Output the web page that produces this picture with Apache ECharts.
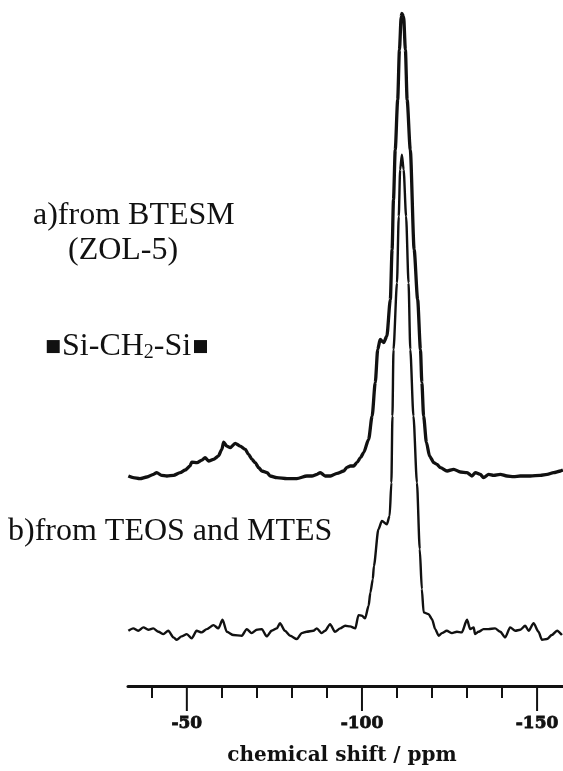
<!DOCTYPE html>
<html lang="en">
<head>
    <meta charset="UTF-8">
    <title>29Si NMR spectra</title>
    <style>
        html, body {
            margin: 0;
            padding: 0;
            background: #fff;
        }

        #chart {
            width: 563px;
            height: 771px;
        }
    </style>
    <script src="https://cdn.jsdelivr.net/npm/echarts@6/dist/echarts.min.js"></script>
</head>
<body>
<div id="chart"></div>
<script>
    // spectrum a) from BTESM (ZOL-5): [ppm, intensity above its own baseline]
    var specA = [
        [-33.3, 1.3], [-34.7, -0.3], [-36.6, -1.3], [-38.6, 0.3], [-40.5, 3], [-41.4, 4.7], [-42.8, 2],
        [-44.3, 1.3], [-46.2, 2], [-48.1, 4.7], [-49.5, 7.3], [-50.9, 11.3], [-51.4, 15.3], [-52.9, 14.7],
        [-54.3, 17.3], [-55.2, 19.7], [-56.2, 16.3], [-57.6, 18], [-59.0, 21.3], [-60.0, 28], [-60.5, 35.3],
        [-61.4, 31.3], [-62.4, 29.7], [-63.8, 34], [-65.2, 31.3], [-66.7, 28], [-67.6, 23], [-68.6, 18],
        [-69.5, 14.7], [-70.5, 9.7], [-71.4, 6.3], [-72.9, 4.7], [-73.8, 1.3], [-75.7, -0.3], [-78.6, -1.3],
        [-81.4, -1.3], [-84.3, 1.3], [-85.7, 1.3], [-87.2, 3], [-88.1, 4.7], [-89.5, 1.3], [-91.0, 1.3],
        [-92.9, 4], [-94.8, 6.3], [-95.7, 10], [-96.7, 11.3], [-97.6, 11.3], [-98.6, 15], [-99.6, 19.7],
        [-100.5, 25], [-101.9, 38], [-102.9, 61.3], [-103.8, 95], [-104.5, 128], [-105.2, 138], [-106.2, 135],
        [-107.1, 141.3], [-108.1, 178], [-108.6, 228], [-109.0, 278], [-109.5, 328], [-110.2, 378],
        [-110.7, 428], [-111.2, 461.3], [-111.4, 464.7], [-111.9, 461.3], [-112.4, 428], [-112.9, 378],
        [-113.8, 328], [-114.9, 228], [-115.9, 178], [-116.7, 128], [-117.1, 95], [-117.6, 61.3],
        [-118.4, 35], [-119.3, 21.3], [-120.5, 14.7], [-121.4, 13], [-122.4, 9.7], [-124.3, 6.3],
        [-126.2, 8], [-128.1, 5.3], [-130.0, 4.7], [-131.4, 1.3], [-132.4, 4.7], [-133.8, 3], [-134.7, -0.3],
        [-136.2, 3], [-137.6, 2], [-139.5, 3], [-141.4, 1.3], [-143.3, 0.7], [-145.2, 1.3], [-148.1, 1.3],
        [-150.9, 2], [-152.9, 3], [-154.7, 4.7], [-156.7, 6.3], [-157.4, 7.3]
    ];

    // spectrum b) from TEOS and MTES
    var specB = [
        [-33.3, 0.3], [-34.7, 2.7], [-36.1, 0.3], [-37.6, 3.7], [-39.0, 1.3], [-40.4, 2.7], [-41.9, -0.7],
        [-43.3, -3], [-44.7, 0.3], [-46.2, -6.3], [-47.1, -8.7], [-48.5, -5.3], [-50.0, -3], [-51.4, -7.3],
        [-52.8, 0.3], [-54.2, -1.3], [-55.7, 2], [-57.6, 6], [-59.0, 2.7], [-60.2, 11.3], [-61.4, -0.7],
        [-63.3, -4], [-65.7, -4.7], [-67.1, 2], [-68.5, -2], [-70.0, 1.3], [-71.4, 2], [-72.8, -5.3],
        [-74.2, 0.3], [-75.7, 2.7], [-76.6, 8], [-78.0, 0.3], [-79.5, -4.7], [-81.4, -8], [-82.8, -2],
        [-84.2, -0.7], [-86.1, 0.3], [-87.1, 2.7], [-88.5, -2], [-89.5, 0.3], [-90.9, 7], [-92.3, -0.7],
        [-93.8, 2.7], [-95.2, 5.3], [-96.6, 4.7], [-98.1, 2.7], [-99.0, 16], [-100.0, 15.3], [-100.9, 12.7],
        [-101.9, 25.3], [-102.4, 38.7], [-103.1, 52], [-103.4, 65], [-104.7, 102], [-105.7, 110.3],
        [-107.1, 107], [-107.9, 115.3], [-108.4, 148.7], [-108.7, 215.3], [-109.0, 282], [-110.0, 348.7],
        [-110.5, 415.3], [-110.9, 462], [-111.4, 477], [-111.9, 462], [-112.6, 415.3], [-113.3, 348.7],
        [-113.8, 282], [-114.7, 215.3], [-115.7, 148.7], [-116.5, 82], [-117.1, 42], [-117.6, 18.7],
        [-119.0, 17], [-120.0, 12], [-120.9, 2], [-121.9, -4.7], [-122.8, -2], [-124.2, 0.3], [-125.7, -2],
        [-127.1, -0.7], [-128.5, -1.3], [-130.0, 11.3], [-130.9, 2], [-131.9, 3.7], [-132.3, -3],
        [-133.3, -0.7], [-134.7, 2], [-136.1, 2], [-138.0, 2.7], [-139.5, -0.7], [-140.9, -6.3],
        [-142.3, 3.7], [-143.8, 0.3], [-145.2, 1.3], [-146.6, 5.3], [-147.6, 0.3], [-149.0, 8],
        [-150.4, -0.7], [-151.4, -8.7], [-152.8, -8], [-154.2, -4], [-155.7, 0.3], [-157.1, -4]
    ];

    // tick positions and labels on the ppm axis
    var majorTicks = [-50, -100, -150];
    var minorTicks = [-40, -60, -70, -80, -90, -110, -120, -130, -140];

    // vertical offset of each trace (stacked spectra)
    var offsetA = 209;
    var offsetB = 55;

    function shift(arr, off) {
        return arr.map(function (p) {
            return [p[0], p[1] + off];
        });
    }

    // one bottom axis per tick size, all sharing the same scale
    function ppmAxis(extra) {
        var ax = {
            type: 'value',
            inverse: true,
            min: -157.4,
            max: -33.2,
            position: 'bottom',
            axisLine: {show: false},
            axisTick: {show: false},
            axisLabel: {show: false},
            splitLine: {show: false}
        };
        for (var k in extra) {
            ax[k] = extra[k];
        }
        return ax;
    }

    var myChart = echarts.init(document.getElementById('chart'));

    var serif = '"Liberation Serif", "Times New Roman", serif';

    var labels = [
        {
            id: 'ta', type: 'text', left: 33, top: 200,
            style: {text: 'a)from BTESM', font: '32px ' + serif, fill: '#111'}
        },
        {
            id: 'tz', type: 'text', left: 68, top: 235,
            style: {text: '(ZOL-5)', font: '32px ' + serif, fill: '#111'}
        },
        {
            id: 'ts', type: 'text', left: 45, top: 331,
            style: {
                text: '{q|■}Si-CH{s|2}-Si{q|■}',
                font: '32px ' + serif,
                fill: '#111',
                rich: {
                    q: {fontSize: 17, fontFamily: 'DejaVu Sans', verticalAlign: 'middle', padding: [0, 1, 0, 1]},
                    s: {fontSize: 20, fontFamily: serif, verticalAlign: 'bottom', padding: [10, 0, 0, 0]}
                }
            }
        },
        {
            id: 'tb', type: 'text', left: 8, top: 516,
            style: {text: 'b)from TEOS and MTES', font: '32px ' + serif, fill: '#111'}
        }
    ];

    var option = {
        backgroundColor: '#fff',
        animation: false,
        grid: {
            left: 128,
            right: 0,
            top: 0,
            bottom: 84
        },
        xAxis: [
            ppmAxis({
                axisLine: {show: true, lineStyle: {color: '#111', width: 3}},
                axisLabel: {
                    show: true,
                    customValues: majorTicks.slice(),
                    margin: 29,
                    color: '#111',
                    fontFamily: '"DejaVu Serif", serif',
                    fontWeight: 'bold',
                    fontSize: 17,
                    textBorderColor: '#111',
                    textBorderWidth: 0.8
                },
                name: 'chemical shift / ppm',
                nameLocation: 'middle',
                nameGap: 60,
                nameTextStyle: {
                    color: '#111',
                    fontFamily: '"DejaVu Serif", serif',
                    fontWeight: 'bold',
                    fontSize: 20,
                    padding: [0, 7, 0, 0]
                }
            }),
            ppmAxis({
                axisTick: {
                    show: true,
                    length: 12,
                    customValues: minorTicks.slice(),
                    lineStyle: {color: '#111', width: 2}
                }
            })
        ],
        yAxis: {
            type: 'value',
            min: 0,
            max: 687,
            show: false
        },
        series: [
            {
                name: 'a',
                type: 'line',
                xAxisIndex: 0,
                data: shift(specA, offsetA),
                showSymbol: false,
                smooth: 0.25,
                smoothMonotone: 'x',
                lineStyle: {color: '#111', width: 3.3}
            },
            {
                name: 'b',
                type: 'line',
                xAxisIndex: 0,
                data: shift(specB, offsetB),
                showSymbol: false,
                smooth: 0.25,
                smoothMonotone: 'x',
                lineStyle: {color: '#111', width: 2.4}
            }
        ],
        graphic: labels
    };

    myChart.setOption(option);

    // long ticks at the labelled values, positioned through the chart's own x scale
    var axisY = myChart.convertToPixel({yAxisIndex: 0}, 0);
    var majorMarks = majorTicks.map(function (v, i) {
        var x = myChart.convertToPixel({xAxisIndex: 0}, v);
        return {
            id: 'major' + i,
            type: 'line',
            z: 100,
            silent: true,
            shape: {x1: x, y1: axisY, x2: x, y2: axisY + 25},
            style: {stroke: '#111', lineWidth: 2}
        };
    });

    myChart.setOption({graphic: labels.concat(majorMarks)});
</script>
</body>
</html>
